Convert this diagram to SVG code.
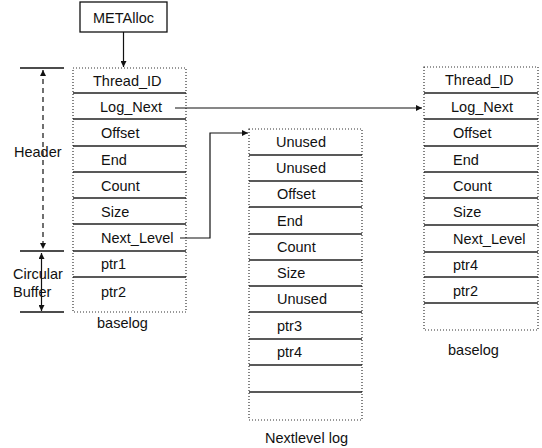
<svg xmlns="http://www.w3.org/2000/svg" width="542" height="448" viewBox="0 0 542 448">
  <style>
    text { font-family: "Liberation Sans", Arial, sans-serif; font-size: 14.5px; fill: #111; }
    .frame { fill: none; stroke: #333; stroke-width: 1.2; stroke-dasharray: 1 2; }
    .sep { stroke: #222; stroke-width: 1.3; }
    .wire { fill: none; stroke: #111; stroke-width: 1.2; }
    .dash { fill: none; stroke: #111; stroke-width: 1.2; stroke-dasharray: 5 4; }
    .tick { stroke: #111; stroke-width: 1.3; }
  </style>
  <defs>
    <marker id="head" viewBox="0 0 10 10" refX="10" refY="5" markerWidth="7" markerHeight="6" markerUnits="userSpaceOnUse" orient="auto">
      <path d="M0,0 L10,5 L0,10 z" fill="#111"/>
    </marker>
    <marker id="tail" viewBox="0 0 10 10" refX="0" refY="5" markerWidth="7" markerHeight="6" markerUnits="userSpaceOnUse" orient="auto">
      <path d="M10,0 L0,5 L10,10 z" fill="#111"/>
    </marker>
  </defs>

  <!-- allocator entry point -->
  <g id="metalloc">
    <rect x="80" y="2" width="87" height="30" fill="#fff" stroke="#111" stroke-width="1.3"/>
    <text x="123.5" y="23" text-anchor="middle">METAlloc</text>
  </g>

  <!-- base log (left) -->
  <g id="baselog-left">
    <rect class="frame" x="73" y="68" width="113" height="244"/>
    <line class="sep" x1="73" y1="93" x2="186" y2="93"/>
    <line class="sep" x1="73" y1="119" x2="186" y2="119"/>
    <line class="sep" x1="73" y1="146" x2="186" y2="146"/>
    <line class="sep" x1="73" y1="172" x2="186" y2="172"/>
    <line class="sep" x1="73" y1="198" x2="186" y2="198"/>
    <line class="sep" x1="73" y1="224" x2="186" y2="224"/>
    <line class="sep" x1="73" y1="251" x2="186" y2="251"/>
    <line class="sep" x1="73" y1="277" x2="186" y2="277"/>
    <text x="93" y="86">Thread_ID</text>
    <text x="100" y="112">Log_Next</text>
    <text x="101" y="138">Offset</text>
    <text x="101" y="165">End</text>
    <text x="101" y="191">Count</text>
    <text x="101" y="217">Size</text>
    <text x="101" y="243">Next_Level</text>
    <text x="101" y="269">ptr1</text>
    <text x="101" y="297">ptr2</text>
    <text x="97" y="328">baselog</text>
  </g>

  <!-- header / circular buffer extents -->
  <g id="extents">
    <line class="tick" x1="20" y1="68" x2="64" y2="68"/>
    <line class="tick" x1="20" y1="251" x2="64" y2="251"/>
    <line class="tick" x1="20" y1="312" x2="64" y2="312"/>
    <line class="dash" x1="43" y1="70" x2="43" y2="249" marker-start="url(#tail)" marker-end="url(#head)"/>
    <line class="wire" x1="41.5" y1="253" x2="41.5" y2="311" marker-start="url(#tail)" marker-end="url(#head)"/>
    <text x="14" y="157">Header</text>
    <text x="13" y="279">Circular</text>
    <text x="13" y="297">Buffer</text>
  </g>

  <!-- next level log (middle) -->
  <g id="nextlevel-log">
    <rect class="frame" x="249" y="129" width="113" height="291"/>
    <line class="sep" x1="249" y1="155" x2="362" y2="155"/>
    <line class="sep" x1="249" y1="181" x2="362" y2="181"/>
    <line class="sep" x1="249" y1="207" x2="362" y2="207"/>
    <line class="sep" x1="249" y1="234" x2="362" y2="234"/>
    <line class="sep" x1="249" y1="260" x2="362" y2="260"/>
    <line class="sep" x1="249" y1="286" x2="362" y2="286"/>
    <line class="sep" x1="249" y1="312" x2="362" y2="312"/>
    <line class="sep" x1="249" y1="339" x2="362" y2="339"/>
    <line class="sep" x1="249" y1="365" x2="362" y2="365"/>
    <line class="sep" x1="249" y1="392" x2="362" y2="392"/>
    <text x="276" y="147">Unused</text>
    <text x="276" y="173">Unused</text>
    <text x="277" y="199">Offset</text>
    <text x="277" y="226">End</text>
    <text x="277" y="252">Count</text>
    <text x="277" y="278">Size</text>
    <text x="277" y="304">Unused</text>
    <text x="277" y="331">ptr3</text>
    <text x="277" y="357">ptr4</text>
    <text x="265" y="443">Nextlevel log</text>
  </g>

  <!-- base log (right) -->
  <g id="baselog-right">
    <rect class="frame" x="424" y="67" width="114" height="263"/>
    <line class="sep" x1="424" y1="93" x2="538" y2="93"/>
    <line class="sep" x1="424" y1="119" x2="538" y2="119"/>
    <line class="sep" x1="424" y1="146" x2="538" y2="146"/>
    <line class="sep" x1="424" y1="172" x2="538" y2="172"/>
    <line class="sep" x1="424" y1="198" x2="538" y2="198"/>
    <line class="sep" x1="424" y1="225" x2="538" y2="225"/>
    <line class="sep" x1="424" y1="252" x2="538" y2="252"/>
    <line class="sep" x1="424" y1="277" x2="538" y2="277"/>
    <line class="sep" x1="424" y1="303" x2="538" y2="303"/>
    <text x="445" y="85">Thread_ID</text>
    <text x="451" y="112">Log_Next</text>
    <text x="453" y="138">Offset</text>
    <text x="453" y="165">End</text>
    <text x="453" y="191">Count</text>
    <text x="453" y="217">Size</text>
    <text x="453" y="244">Next_Level</text>
    <text x="453" y="270">ptr4</text>
    <text x="453" y="296">ptr2</text>
    <text x="448" y="355">baselog</text>
  </g>

  <!-- pointers between logs -->
  <g id="connectors">
    <line class="wire" x1="123.5" y1="32" x2="123.5" y2="67" marker-end="url(#head)"/>
    <line class="wire" x1="175" y1="108" x2="422" y2="108" marker-end="url(#head)"/>
    <polyline class="wire" points="180,238 210,238 210,133 248,133" marker-end="url(#head)"/>
  </g>
</svg>
